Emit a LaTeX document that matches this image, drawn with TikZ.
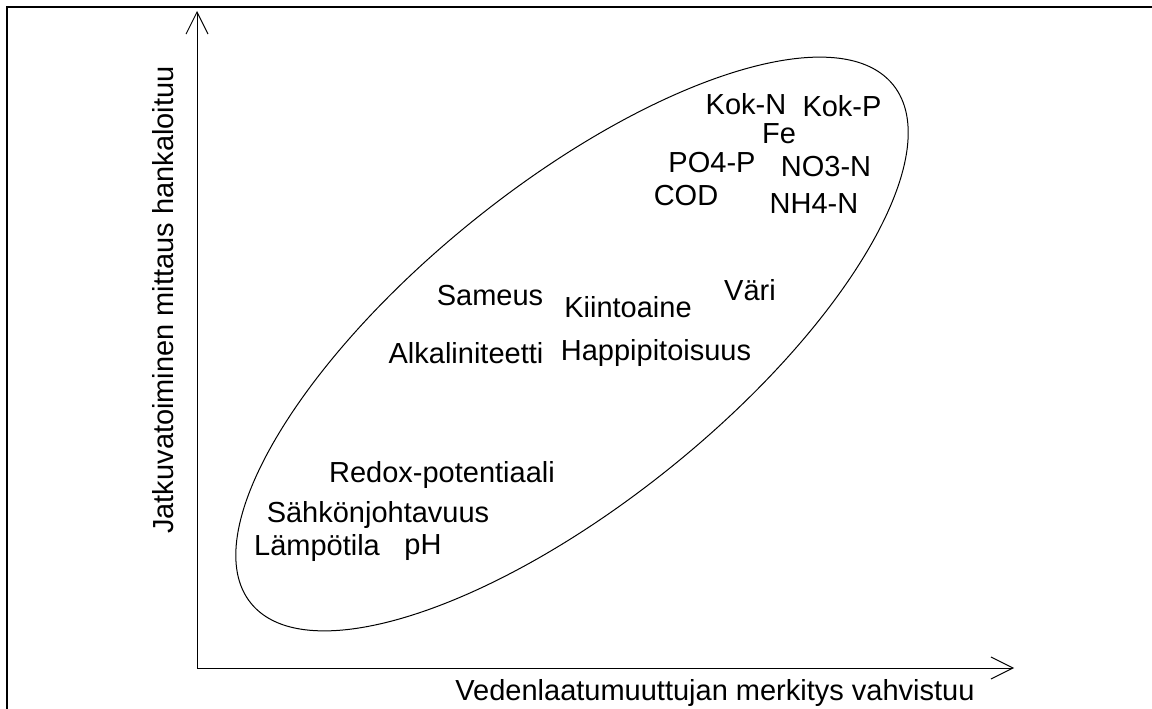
\documentclass[tikz,border=0pt]{standalone}
\usepackage{fontspec}
\setmainfont{Liberation Sans}
\usetikzlibrary{arrows.meta}
\begin{document}
\begin{tikzpicture}[x=0.75pt,y=0.75pt,
  lbl/.style={inner sep=0pt, anchor=base, font=\fontsize{21.75pt}{26pt}\selectfont},
  axis/.style={line width=0.75pt, -{Straight Barb[length=16.5pt,width=16.5pt,line width=0.75pt]}},
  frameline/.style={line width=1.6pt},
  cluster/.style={line width=0.75pt}]
\useasboundingbox (0,0) rectangle (1152,-709);

% outer frame (left and top edges)
\draw[frameline] (7,-709) -- (7,-7) -- (1152,-7);

% axes
\coordinate (O) at (197,-668);
\coordinate (ytip) at (197,-11);
\coordinate (xtip) at (1014,-668);
\draw[axis] (O) -- (ytip);
\draw[axis] (O) -- (xtip);

% axis titles
\node[lbl, rotate=90] (ylab) at (173,-300) {Jatkuvatoiminen mittaus hankaloituu};
\node[lbl] (xlab) at (715,-700) {Vedenlaatumuuttujan merkitys vahvistuu};

% enclosing ellipse
\draw[cluster, rotate around={38.9:(572,-344)}] (572,-344) ellipse [x radius=309.5pt, y radius=118.5pt];

% water quality variables
\node[lbl] (kokn)  at (746,-115) {Kok-N};
\node[lbl] (kokp)  at (842,-117) {Kok-P};
\node[lbl] (fe)    at (779,-144) {Fe};
\node[lbl] (po4)   at (712,-173) {PO4-P};
\node[lbl] (no3)   at (826,-177) {NO3-N};
\node[lbl] (cod)   at (686,-206) {COD};
\node[lbl] (nh4)   at (814,-214) {NH4-N};
\node[lbl] (sam)   at (490,-305) {Sameus};
\node[lbl] (kiin)  at (628,-317) {Kiintoaine};
\node[lbl] (vari)  at (750,-300) {Väri};
\node[lbl] (alk)   at (466,-363) {Alkaliniteetti};
\node[lbl] (happi) at (656,-360) {Happipitoisuus};
\node[lbl] (redox) at (442,-482) {Redox-potentiaali};
\node[lbl] (sahko) at (378,-522) {Sähkönjohtavuus};
\node[lbl] (lampo) at (317,-555) {Lämpötila};
\node[lbl] (ph)    at (423,-554) {pH};
\end{tikzpicture}
\end{document}
